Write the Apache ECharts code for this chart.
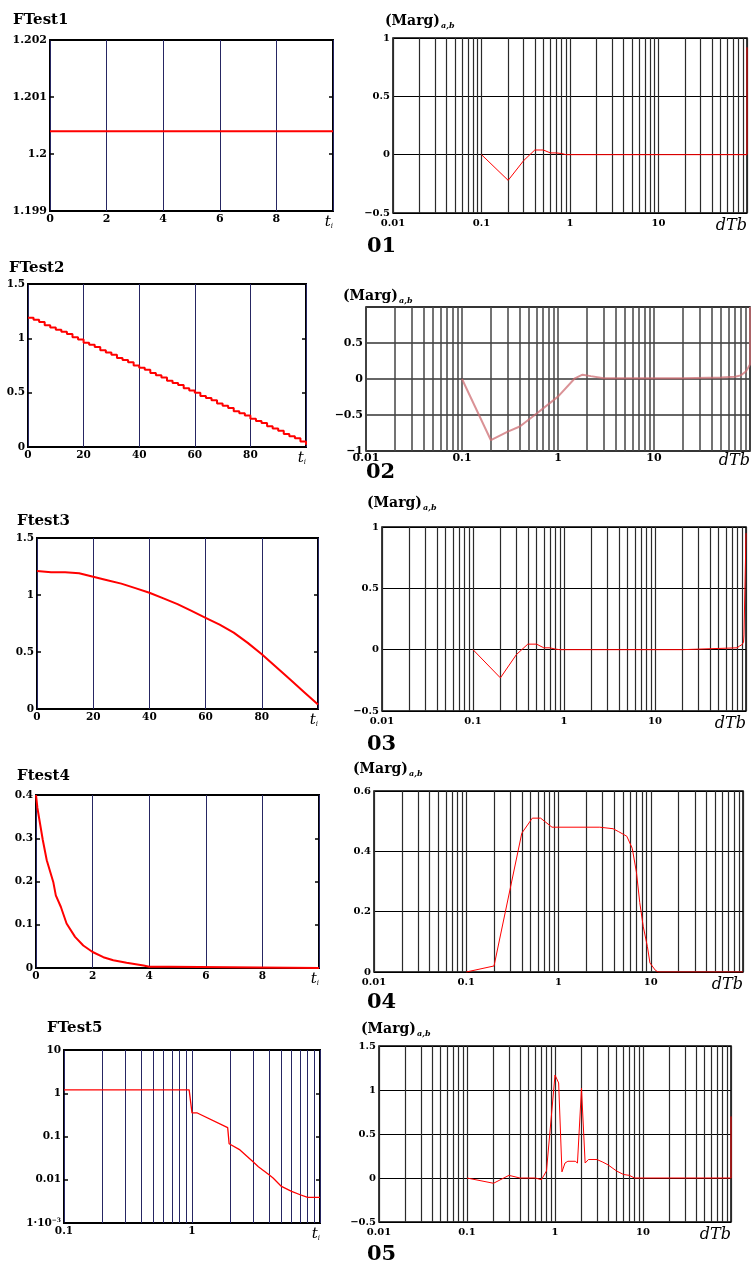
<!DOCTYPE html>
<html><head><meta charset="utf-8">
<script src="https://cdn.jsdelivr.net/npm/echarts@6/dist/echarts.min.js"></script>
<style>html,body{margin:0;padding:0;background:#fff}#c{width:753px;height:1269px}</style>
</head><body><div id="c"></div>
<script>
// ---------------- DATA ----------------
// Left panels (FTest functions)
const ft1T = [0, 2, 4, 6, 8, 10];
const ft1V = [1.2004, 1.2004, 1.2004, 1.2004, 1.2004, 1.2004];

const ft2T = [0,2,4,6,8,10,12,14,16,18,20,22,24,26,28,30,32,34,36,38,40,42,44,46,48,50,52,54,56,58,60,62,64,66,68,70,72,74,76,78,80,82,84,86,88,90,92,94,96,98,100];
const ft2V = [1.19,1.17,1.15,1.12,1.10,1.08,1.06,1.04,1.01,0.99,0.96,0.94,0.92,0.89,0.87,0.85,0.82,0.80,0.78,0.75,0.73,0.71,0.68,0.66,0.64,0.61,0.59,0.57,0.54,0.52,0.50,0.47,0.45,0.43,0.40,0.38,0.36,0.33,0.31,0.29,0.26,0.24,0.22,0.19,0.17,0.15,0.12,0.10,0.08,0.05,0.02];

const ft3T = [0,5,10,15,20,25,30,35,40,45,50,55,60,65,70,75,80,85,90,95,100];
const ft3V = [1.21,1.20,1.20,1.19,1.16,1.13,1.10,1.06,1.02,0.97,0.92,0.86,0.80,0.74,0.67,0.58,0.48,0.37,0.26,0.15,0.04];

const ft4T = [0,0.05,0.24,0.38,0.61,0.70,0.88,1.08,1.38,1.67,2.0,2.38,2.73,3.2,3.8,4.0,4.7,4.75,10];
const ft4V = [0.4,0.37,0.296,0.249,0.199,0.168,0.141,0.103,0.072,0.052,0.037,0.025,0.018,0.012,0.006,0.003,0.003,0,0];

const ft5T = [0.1,0.95,1.0,1.1,1.9,1.95,2.37,3,3.3,4,4.3,5,6,7,8,10];
const ft5V = [1.2,1.2,0.35,0.35,0.16,0.068,0.049,0.026,0.02,0.013,0.011,0.007,0.0054,0.0045,0.0039,0.0039];

// Right panels ((Marg)a,b vs dTb)
const m1X = [0.1,0.2,0.3,0.4,0.5,0.6,0.7,0.8,0.9,100,100];
const m1V = [0,-0.22,-0.05,0.04,0.04,0.015,0.015,0.01,0,0,0.92];

const m2X = [0.1,0.2,0.3,0.4,0.6,1,1.5,1.8,2.2,3,20,50,70,80,90,95,100,100];
const m2V = [0,-0.85,-0.73,-0.66,-0.48,-0.245,0.01,0.06,0.04,0.01,0.01,0.02,0.03,0.05,0.1,0.15,0.2,1];

const m3X = [0.1,0.2,0.3,0.4,0.5,0.6,0.7,0.8,0.9,20,20,80,85,90,94,95,99,100,100];
const m3V = [0,-0.23,-0.04,0.045,0.045,0.015,0.015,0.005,0,0,0.015,0.015,0.03,0.04,0.06,0.12,0.12,0.12,0.95];

const m4X = [0.1,0.2,0.4,0.52,0.64,0.85,2.8,2.8,3.9,4.5,5.5,6.3,7,7.6,8.3,9.2,9.8,11.2,12,100];
const m4V = [0,0.02,0.46,0.51,0.51,0.48,0.48,0.475,0.475,0.465,0.45,0.41,0.33,0.23,0.15,0.084,0.03,0.006,0,0];

const m5X = [0.1,0.2,0.3,0.4,0.6,0.7,0.8,1.0,1.1,1.2,1.3,1.4,1.7,1.8,2.0,2.2,2.4,3.0,3.5,4.0,5.0,6.0,7.0,8.0,100,100];
const m5V = [0,-0.06,0.03,0,0,-0.02,0.08,1.17,1.08,0.07,0.17,0.19,0.19,0.17,1.02,0.17,0.21,0.21,0.18,0.15,0.08,0.04,0.03,0,0,0.7];

// Tick labels / grid values
const leftTitles = ['FTest1', 'FTest2', 'Ftest3', 'Ftest4', 'FTest5'];
const panelNums = ['01', '02', '03', '04', '05'];
const dTbDecadeLabels = ['0.01', '0.1', '1', '10', '{it|dTb}'];
const logMinorGrid = [0.02,0.03,0.04,0.05,0.06,0.07,0.08,0.09,0.2,0.3,0.4,0.5,0.6,0.7,0.8,0.9,2,3,4,5,6,7,8,9,20,30,40,50,60,70,80,90];
const ft5MinorGrid = [0.2,0.3,0.4,0.5,0.6,0.7,0.8,0.9,2,3,4,5,6,7,8,9];
const ft5XLabels = ['0.1', '1', '{t|t}{i|i}'];
const ft5YLabels = ['1·10{sup|−3}', '0.01', '0.1', '1', '10'];

// ---------------- BUILD ----------------
const FONT = "'DejaVu Serif', serif";
const RICH = {
  t: {fontFamily: FONT, fontStyle: 'italic', fontWeight: 'normal', fontSize: 15, color: '#000'},
  i: {fontFamily: FONT, fontStyle: 'italic', fontWeight: 'normal', fontSize: 7, color: '#000', padding: [9, 0, 0, 0]},
  it: {fontFamily: FONT, fontStyle: 'italic', fontWeight: 'normal', fontSize: 16, color: '#000'},
  sup: {fontFamily: FONT, fontWeight: 'bold', fontSize: 6, color: '#000', padding: [0, 0, 6, 0]}
};
const grids = [], xAxes = [], yAxes = [], series = [], titles = [];
const pairs = (xs, ys) => xs.map((x, i) => [x, ys[i]]);
const minus = v => String(v).replace('-', '\u2212');

function gridLinesSeries(xi, yi, vals, color, width) {
  return {
    type: 'line', xAxisIndex: xi, yAxisIndex: yi, data: [], z: 1, silent: true,
    markLine: {
      silent: true, symbol: ['none', 'none'], animation: false, z: 1,
      label: {show: false},
      lineStyle: {type: 'solid', color: color, width: width},
      emphasis: {disabled: true},
      data: vals.map(v => ({xAxis: v}))
    }
  };
}

function addPanel(p) {
  const gi = grids.length;
  grids.push({left: p.rect[0], top: p.rect[1], width: p.rect[2], height: p.rect[3],
    show: true, borderColor: '#000', borderWidth: p.bw, backgroundColor: 'transparent'});
  const xi = xAxes.length;
  const labelBase = {margin: p.xMargin || 3, fontFamily: FONT, fontWeight: 'bold', fontSize: p.fs, color: '#000', rich: RICH,
    showMinLabel: true, showMaxLabel: true, alignMaxLabel: 'right', hideOverlap: false};
  const xa = {gridIndex: gi, type: p.xType, min: p.xMin, max: p.xMax,
    axisLine: {show: false}, axisTick: {show: false},
    splitLine: {show: true, lineStyle: {color: p.vColor, width: p.minorW || 1}},
    axisLabel: Object.assign({}, labelBase, {formatter: p.xFmt})};
  if (p.xType === 'value') xa.interval = p.xInt; else xa.logBase = 10;
  xAxes.push(xa);
  const yi = yAxes.length;
  const ya = {gridIndex: gi, type: p.yType, min: p.yMin, max: p.yMax,
    axisLine: {show: false},
    axisTick: {show: !!p.yTicks, inside: true, length: 4, lineStyle: {color: '#000', width: 1.5}},
    splitLine: {show: !!p.hGrid, lineStyle: {color: p.hColor || '#000', width: p.hWidth || 1}},
    axisLabel: Object.assign({}, labelBase, {margin: 3, alignMaxLabel: null, formatter: p.yFmt, showMaxLabel: p.showYMax !== false})};
  if (p.yType === 'value') ya.interval = p.yInt; else ya.logBase = 10;
  yAxes.push(ya);
  if (p.yTicks) {
    const yb = Object.assign({}, ya, {position: 'right', axisLabel: {show: false}, splitLine: {show: false}});
    yAxes.push(yb);
  }
  if (p.minor) series.push(gridLinesSeries(xi, yi, p.minor, p.vColor, p.minorW || 1));
  series.push({type: 'line', xAxisIndex: xi, yAxisIndex: yi, data: p.data, z: 10,
    showSymbol: false, symbol: 'none', step: p.step || false, silent: true, animation: false,
    lineStyle: {color: p.lineColor || '#ff0000', width: p.lw}});
}

const NAVY = '#262662';
const linFmt = (max) => v => (Math.abs(v - max) < 1e-9 ? '{t|t}{i|i}' : String(v));
const logFmt = (labels, minExp) => v => labels[Math.round(Math.log10(v)) - minExp];

// Left panels
addPanel({rect: [50, 40, 283, 171], bw: 2, xType: 'value', xMin: 0, xMax: 10, xInt: 2,
  yType: 'value', yMin: 1.199, yMax: 1.202, yInt: 0.001, yTicks: true, fs: 11, vColor: NAVY,
  xFmt: linFmt(10), yFmt: v => v.toFixed(3).replace(/0+$/, '').replace(/\.$/, ''),
  data: pairs(ft1T, ft1V), lw: 2});
addPanel({rect: [28, 284, 278, 163], bw: 2, xType: 'value', xMin: 0, xMax: 100, xInt: 20,
  yType: 'value', yMin: 0, yMax: 1.5, yInt: 0.5, yTicks: true, fs: 10.5, vColor: NAVY,
  xFmt: linFmt(100), yFmt: v => String(v), data: pairs(ft2T, ft2V), lw: 2, step: 'end'});
addPanel({rect: [37, 538, 281, 171], bw: 2, xType: 'value', xMin: 0, xMax: 100, xInt: 20,
  yType: 'value', yMin: 0, yMax: 1.5, yInt: 0.5, yTicks: true, fs: 10.5, vColor: NAVY,
  xFmt: linFmt(100), yFmt: v => String(v), data: pairs(ft3T, ft3V), lw: 2});
addPanel({rect: [36, 795, 283, 173], bw: 2, xType: 'value', xMin: 0, xMax: 10, xInt: 2,
  yType: 'value', yMin: 0, yMax: 0.4, yInt: 0.1, yTicks: true, fs: 10.5, vColor: NAVY,
  xFmt: linFmt(10), yFmt: v => String(v), data: pairs(ft4T, ft4V), lw: 2});
addPanel({rect: [64, 1050, 256, 173], bw: 2, xType: 'log', xMin: 0.1, xMax: 10,
  yType: 'log', yMin: 0.001, yMax: 10, yTicks: true, fs: 10.5, vColor: NAVY, minor: ft5MinorGrid,
  xFmt: logFmt(ft5XLabels, -1), yFmt: logFmt(ft5YLabels, -3), data: pairs(ft5T, ft5V), lw: 1.3});

// Right panels
const GR = '#2a2a2a';
addPanel({rect: [393, 38, 354, 175], bw: 1.5, xType: 'log', xMin: 0.01, xMax: 100,
  yType: 'value', yMin: -0.5, yMax: 1, yInt: 0.5, hGrid: true, fs: 10, vColor: GR, minorW: 1.2, minor: logMinorGrid, xMargin: 5,
  xFmt: logFmt(dTbDecadeLabels, -2), yFmt: minus, data: pairs(m1X, m1V), lw: 1});
addPanel({rect: [366, 307, 389, 144], bw: 1.5, xType: 'log', xMin: 0.01, xMax: 100,
  yType: 'value', yMin: -1, yMax: 1, yInt: 0.5, hGrid: true, hColor: '#333', hWidth: 1.5, showYMax: false, fs: 11, vColor: '#444', minorW: 1.5, minor: logMinorGrid, xMargin: 2,
  xFmt: logFmt(dTbDecadeLabels, -2), yFmt: minus, data: pairs(m2X, m2V), lw: 2, lineColor: 'rgba(205,110,115,0.75)'});
addPanel({rect: [382, 527, 364, 184], bw: 1.5, xType: 'log', xMin: 0.01, xMax: 100,
  yType: 'value', yMin: -0.5, yMax: 1, yInt: 0.5, hGrid: true, fs: 10, vColor: GR, minorW: 1.2, minor: logMinorGrid, xMargin: 5,
  xFmt: logFmt(dTbDecadeLabels, -2), yFmt: minus, data: pairs(m3X, m3V), lw: 1});
addPanel({rect: [374, 791, 369, 181], bw: 1.5, xType: 'log', xMin: 0.01, xMax: 100,
  yType: 'value', yMin: 0, yMax: 0.6, yInt: 0.2, hGrid: true, fs: 10, vColor: GR, minorW: 1.2, minor: logMinorGrid, xMargin: 5,
  xFmt: logFmt(dTbDecadeLabels, -2), yFmt: minus, data: pairs(m4X, m4V), lw: 1});
addPanel({rect: [379, 1046, 352, 176], bw: 1.5, xType: 'log', xMin: 0.01, xMax: 100,
  yType: 'value', yMin: -0.5, yMax: 1.5, yInt: 0.5, hGrid: true, fs: 10, vColor: GR, minorW: 1.2, minor: logMinorGrid, xMargin: 5,
  xFmt: logFmt(dTbDecadeLabels, -2), yFmt: minus, data: pairs(m5X, m5V), lw: 1});

// Titles
const leftTitlePos = [[13, 13], [9, 261], [17, 514], [17, 769], [47, 1021]];
leftTitles.forEach((t, k) => titles.push({text: t, left: leftTitlePos[k][0], top: leftTitlePos[k][1], padding: 0,
  textStyle: {fontFamily: FONT, fontSize: 15, fontWeight: 'bold', color: '#000'}}));
const margPos = [[385, 12], [343, 287], [367, 494], [353, 760], [361, 1020]];
margPos.forEach(p => titles.push({text: '{m|(Marg)}{s|a,b}', left: p[0], top: p[1], padding: 0,
  textStyle: {rich: {
    m: {fontFamily: FONT, fontSize: 14, fontWeight: 'bold', color: '#000', lineHeight: 18},
    s: {fontFamily: FONT, fontSize: 8, fontStyle: 'italic', color: '#000', lineHeight: 18, padding: [9, 0, 0, 1]}
  }}}));
const numPos = [[367, 236], [366, 462], [367, 734], [367, 992], [367, 1244]];
panelNums.forEach((t, k) => titles.push({text: t, left: numPos[k][0], top: numPos[k][1], padding: 0,
  textStyle: {fontFamily: FONT, fontSize: 21, fontWeight: 'bold', color: '#000'}}));

const chart = echarts.init(document.getElementById('c'), null, {renderer: 'canvas'});
chart.setOption({
  animation: false,
  backgroundColor: '#fff',
  title: titles,
  grid: grids,
  xAxis: xAxes,
  yAxis: yAxes,
  series: series
});
</script>
</body></html>
